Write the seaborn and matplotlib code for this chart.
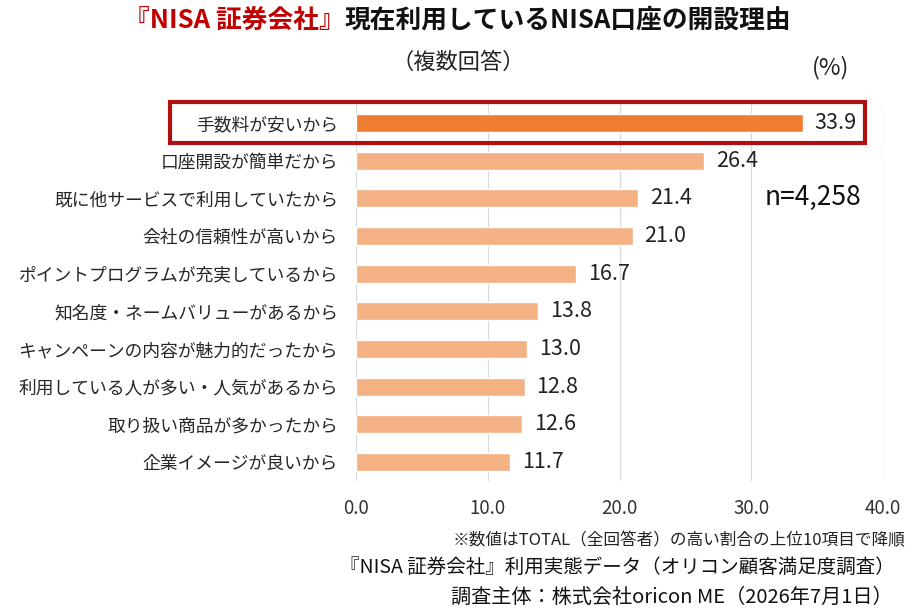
import matplotlib
matplotlib.use("Agg")
import matplotlib.pyplot as plt
import matplotlib.patches as patches
import pandas as pd
import seaborn as sns

reasons = [
    "手数料が安いから",
    "口座開設が簡単だから",
    "既に他サービスで利用していたから",
    "会社の信頼性が高いから",
    "ポイントプログラムが充実しているから",
    "知名度・ネームバリューがあるから",
    "キャンペーンの内容が魅力的だったから",
    "利用している人が多い・人気があるから",
    "取り扱い商品が多かったから",
    "企業イメージが良いから",
]
values = [33.9, 26.4, 21.4, 21.0, 16.7, 13.8, 13.0, 12.8, 12.6, 11.7]
x_ticks = [0, 10, 20, 30, 40]

sns.set_style("white")
plt.rcParams["font.family"] = ["Noto Sans CJK JP", "DejaVu Sans"]

df = pd.DataFrame({"reason": reasons, "value": values})
colors = ["#ED7D31"] + ["#F4B183"] * (len(reasons) - 1)

fig = plt.figure(figsize=(9.18, 6.16), dpi=100)
ax = fig.add_axes([356 / 918, 1 - 481 / 616, (883 - 356) / 918, (481 - 104) / 616])

sns.barplot(data=df, x="value", y="reason", hue="reason", palette=colors,
            legend=False, width=0.48, saturation=1, ax=ax, zorder=2)

ax.set_xlim(0, 40)
ax.set_xticks(x_ticks)
ax.set_xticklabels([f"{t:.1f}" for t in x_ticks], fontsize=13.5, color="#333333")
ax.tick_params(axis="x", length=0, pad=12)
ax.tick_params(axis="y", length=0, pad=13, labelsize=12.8)
ax.set_xlabel("")
ax.set_ylabel("")
ax.grid(axis="x", color="#d9d9d9", linewidth=0.9, zorder=0)
for s in ax.spines.values():
    s.set_visible(False)

for i, v in enumerate(values):
    ax.text(v + 0.9, i, f"{v:.1f}", va="center", ha="left", fontsize=15.5, color="#222222")

# red highlight box around first row
box = patches.Rectangle((170 / 918, 1 - 143 / 616), (865 - 170) / 918, 41 / 616,
                        transform=fig.transFigure, fill=False,
                        edgecolor="#B01010", linewidth=3, zorder=5)
fig.patches.append(box)

# title in two colors
t1 = fig.text(124 / 918, 1 - 20 / 616, "『NISA 証券会社』", color="#C00000",
              fontsize=18.5, fontweight="bold", va="center", ha="left")
ax.annotate("現在利用しているNISA口座の開設理由", xy=(1, 0.5), xycoords=t1,
            va="center", ha="left", fontsize=18.5, fontweight="bold", color="#111111")

fig.text(458 / 918, 1 - 62 / 616, "（複数回答）", fontsize=16, ha="center", va="center", color="#222222")
fig.text(831 / 918, 1 - 68 / 616, "(%)", fontsize=17, ha="center", va="center", color="#222222")
fig.text(813 / 918, 1 - 197 / 616, "n=4,258", fontsize=19, ha="center", va="center", color="#111111")

fig.text(905 / 918, 1 - 541 / 616, "※数値はTOTAL（全回答者）の高い割合の上位10項目で降順",
         fontsize=12, ha="right", va="center", color="#222222")
fig.text(895 / 918, 1 - 567 / 616, "『NISA 証券会社』利用実態データ（オリコン顧客満足度調査）",
         fontsize=14, ha="right", va="center", color="#111111")
fig.text(893 / 918, 1 - 597 / 616, "調査主体：株式会社oricon ME（2026年7月1日）",
         fontsize=14.5, ha="right", va="center", color="#111111")

fig.savefig("out.png", dpi=100)
